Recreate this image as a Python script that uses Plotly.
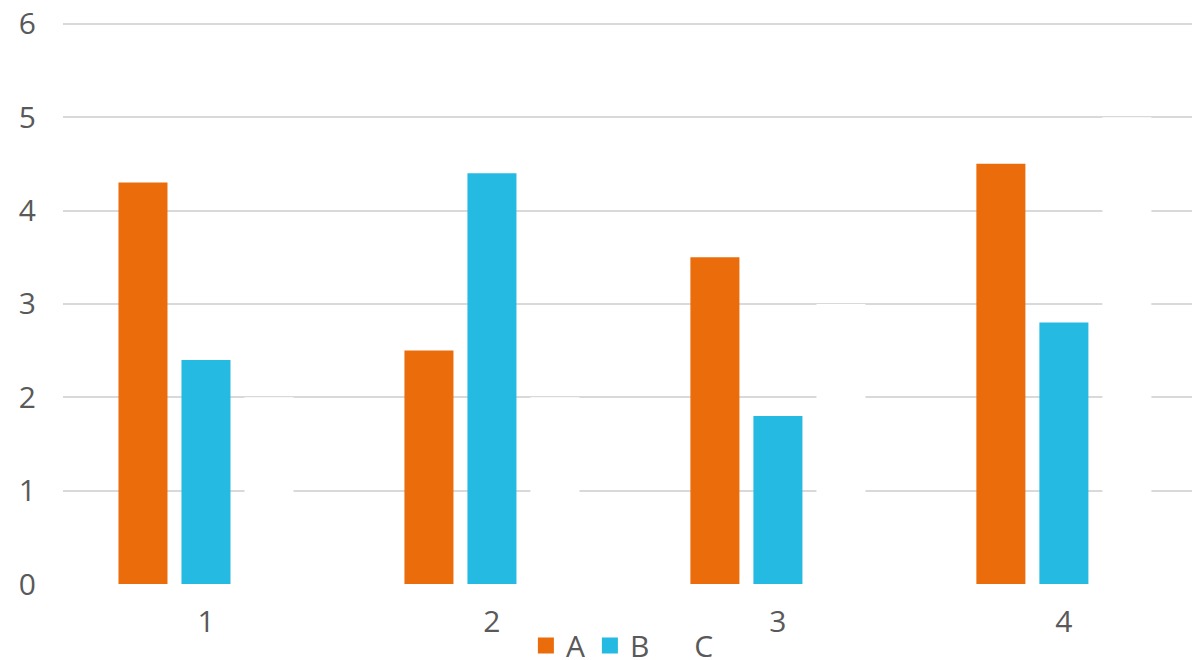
import plotly.graph_objects as go

categories = ["1", "2", "3", "4"]
series_a = [4.3, 2.5, 3.5, 4.5]
series_b = [2.4, 4.4, 1.8, 2.8]
series_c = [2, 2, 3, 5]
series_names = ["A", "B", "C"]
series_colors = ["#EB6C0B", "#25BAE2", "#FFFFFF"]
y_ticks = [0, 1, 2, 3, 4, 5, 6]

FONT = "Open Sans"
TXT = "#595959"

fig = go.Figure()
for name, vals, col in zip(series_names, [series_a, series_b, series_c], series_colors):
    fig.add_trace(go.Bar(x=categories, y=vals, name=name, marker=dict(color=col, line=dict(width=0)),
                         showlegend=False))
for name, col in zip(series_names, series_colors):
    fig.add_trace(go.Scatter(x=[None], y=[None], mode="markers", name=name,
                             marker=dict(symbol="square", size=17, color=col, line=dict(width=0)),
                             showlegend=True))

fig.update_layout(
    width=1192, height=660,
    margin=dict(l=63, r=0, t=21, b=76, pad=0, autoexpand=False),
    paper_bgcolor="white", plot_bgcolor="white",
    barmode="group", bargap=0.339, bargroupgap=0.222,
    font=dict(family=FONT, size=30, color=TXT),
    legend=dict(orientation="h", x=0.41, xanchor="left", y=-0.063, yanchor="top",
                font=dict(family=FONT, size=30, color=TXT),
                itemwidth=30, tracegroupgap=0, bgcolor="rgba(0,0,0,0)"),
    showlegend=True,
)
fig.update_xaxes(type="category", range=[-0.5, 3.448], showgrid=False, showline=False,
                 zeroline=False, ticks="", ticklabelstandoff=17, automargin=False,
                 tickfont=dict(family=FONT, size=30, color=TXT))
fig.update_yaxes(range=[0, 6.03], tickvals=y_ticks, showgrid=True, gridcolor="#D9D9D9", gridwidth=2,
                 zeroline=False, showline=False, ticks="", ticklabelstandoff=26, automargin=False,
                 tickfont=dict(family=FONT, size=30, color=TXT))

fig.write_html("out.html")
